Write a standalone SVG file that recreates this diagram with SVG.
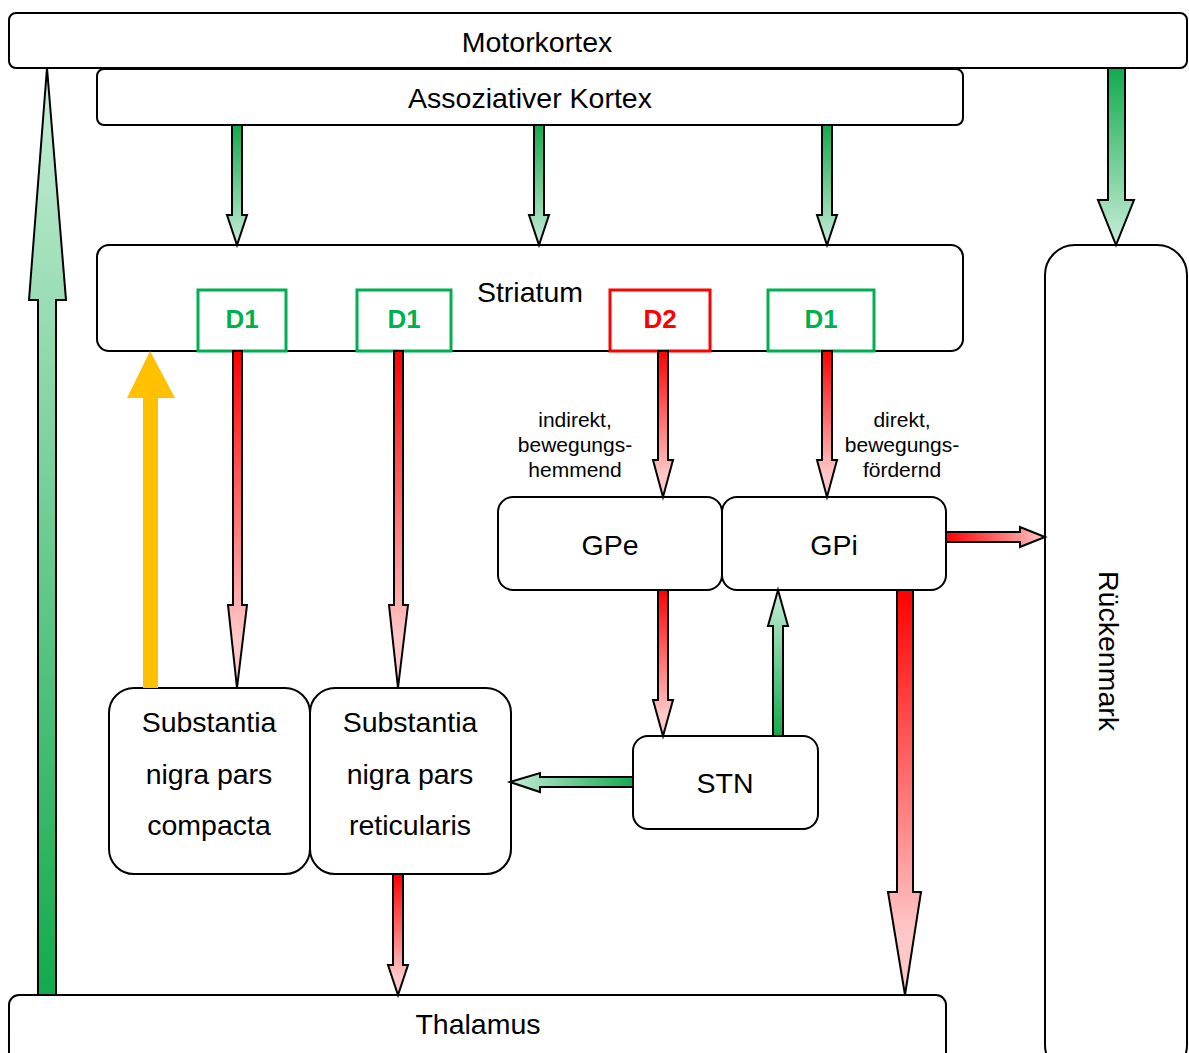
<svg xmlns="http://www.w3.org/2000/svg" width="1189" height="1053" viewBox="0 0 1189 1053">
<defs>
<linearGradient id="gDown" x1="0" y1="0" x2="0" y2="1"><stop offset="0" stop-color="#12aa4c"/><stop offset="1" stop-color="#c8eed8"/></linearGradient>
<linearGradient id="gUp" x1="0" y1="1" x2="0" y2="0"><stop offset="0" stop-color="#12aa4c"/><stop offset="1" stop-color="#c8eed8"/></linearGradient>
<linearGradient id="gLeft" x1="1" y1="0" x2="0" y2="0"><stop offset="0" stop-color="#12aa4c"/><stop offset="1" stop-color="#c8eed8"/></linearGradient>
<linearGradient id="rDown" x1="0" y1="0" x2="0" y2="1"><stop offset="0" stop-color="#ff0000"/><stop offset="0.85" stop-color="#ffc8c8"/><stop offset="1" stop-color="#ffc8c8"/></linearGradient>
<linearGradient id="rRight" x1="0" y1="0" x2="1" y2="0"><stop offset="0" stop-color="#ff0000"/><stop offset="1" stop-color="#ffc8c8"/></linearGradient>
</defs>
<style>
.box{fill:#fff;stroke:#000;stroke-width:2}
.rec{fill:#fff;stroke:#00b050;stroke-width:3}
.rec2{fill:#fff;stroke:#ff0000;stroke-width:3}
.t{font-family:"Liberation Sans",Arial,sans-serif;font-size:28.5px;fill:#000;text-anchor:middle}
.s{font-family:"Liberation Sans",Arial,sans-serif;font-size:21px;fill:#000;text-anchor:middle}
.d{font-family:"Liberation Sans",Arial,sans-serif;font-size:26px;font-weight:bold;text-anchor:middle}
.a{stroke:#000;stroke-width:2;stroke-linejoin:miter}
</style>
<g id="motorkortex"><rect class="box" x="9" y="13" width="1178" height="55" rx="7"/><text class="t" x="537" y="52">Motorkortex</text></g>
<g id="assoziativer-kortex"><rect class="box" x="97" y="69" width="866" height="56" rx="7"/><text class="t" x="530" y="108">Assoziativer Kortex</text></g>
<g id="striatum"><rect class="box" x="97" y="245" width="866" height="106" rx="12"/><text class="t" x="530" y="302">Striatum</text></g>
<g id="d1a"><rect class="rec" x="198" y="290" width="88" height="61"/><text class="d" x="242" y="328" fill="#00b050">D1</text></g>
<g id="d1b"><rect class="rec" x="357" y="290" width="94" height="61"/><text class="d" x="404" y="328" fill="#00b050">D1</text></g>
<g id="d2"><rect class="rec2" x="610" y="290" width="100" height="61"/><text class="d" x="660" y="328" fill="#ff0000">D2</text></g>
<g id="d1c"><rect class="rec" x="768" y="290" width="106" height="61"/><text class="d" x="821" y="328" fill="#00b050">D1</text></g>
<g id="rueckenmark"><rect class="box" x="1045" y="245" width="142" height="830" rx="30"/><text class="t" transform="translate(1099,651) rotate(90)" x="0" y="0">Rückenmark</text></g>
<g id="gpe"><rect class="box" x="498" y="497" width="224" height="93" rx="15"/><text class="t" x="610" y="555">GPe</text></g>
<g id="gpi"><rect class="box" x="722" y="497" width="224" height="93" rx="15"/><text class="t" x="834" y="555">GPi</text></g>
<g id="stn"><rect class="box" x="633" y="736" width="185" height="93" rx="15"/><text class="t" x="725" y="793">STN</text></g>
<g id="snc"><rect class="box" x="109" y="688" width="201" height="186" rx="25"/><text class="t" x="209" y="732">Substantia</text><text class="t" x="209" y="784">nigra pars</text><text class="t" x="209" y="835">compacta</text></g>
<g id="snr"><rect class="box" x="310" y="688" width="201" height="186" rx="25"/><text class="t" x="410" y="732">Substantia</text><text class="t" x="410" y="784">nigra pars</text><text class="t" x="410" y="835">reticularis</text></g>
<g id="thalamus"><rect class="box" x="9" y="995" width="937" height="80" rx="10"/><text class="t" x="478" y="1034">Thalamus</text></g>
<g id="labels">
<text class="s" x="575" y="427">indirekt,</text><text class="s" x="575" y="452">bewegungs-</text><text class="s" x="575" y="477">hemmend</text>
<text class="s" x="902" y="427">direkt,</text><text class="s" x="902" y="452">bewegungs-</text><text class="s" x="902" y="477">fördernd</text>
</g>
<g id="connectors">
<path class="a" fill="url(#gUp)" d="M38,995 L56,995 L56,300 L66,300 L47,68 L29,300 L38,300 Z"/>
<path class="a" fill="url(#gDown)" d="M232,125 L242,125 L242,215 L247,215 L237,245 L227,215 L232,215 Z"/>
<path class="a" fill="url(#gDown)" d="M534,125 L544,125 L544,215 L549,215 L539,245 L529,215 L534,215 Z"/>
<path class="a" fill="url(#gDown)" d="M822,125 L832,125 L832,215 L837,215 L827,245 L817,215 L822,215 Z"/>
<path class="a" fill="url(#gDown)" d="M1108,68 L1125,68 L1125,200 L1134,200 L1116,245 L1098,200 L1108,200 Z"/>
<path fill="#ffc000" d="M143,688 L158,688 L158,398 L175,398 L150,351 L127,398 L143,398 Z"/>
<path class="a" fill="url(#rDown)" d="M233,351 L242,351 L242,605 L247,605 L237,688 L228,605 L233,605 Z"/>
<path class="a" fill="url(#rDown)" d="M394,351 L403,351 L403,605 L408,605 L398,688 L389,605 L394,605 Z"/>
<path class="a" fill="url(#rDown)" d="M658,351 L668,351 L668,460 L673,460 L663,497 L653,460 L658,460 Z"/>
<path class="a" fill="url(#rDown)" d="M822,351 L832,351 L832,460 L837,460 L827,497 L817,460 L822,460 Z"/>
<path class="a" fill="url(#rRight)" d="M946,532 L1020,532 L1020,527 L1045,537 L1020,547 L1020,542 L946,542 Z"/>
<path class="a" fill="url(#rDown)" d="M658,590 L668,590 L668,700 L673,700 L663,736 L653,700 L658,700 Z"/>
<path class="a" fill="url(#gUp)" d="M773,736 L783,736 L783,626 L788,626 L778,590 L768,626 L773,626 Z"/>
<path class="a" fill="url(#gLeft)" d="M633,777 L540,777 L540,773 L510,782 L540,792 L540,787 L633,787 Z"/>
<path class="a" fill="url(#rDown)" d="M897,590 L913,590 L913,892 L921,892 L905,995 L888,892 L897,892 Z"/>
<path class="a" fill="url(#rDown)" d="M393,874 L403,874 L403,965 L408,965 L398,995 L388,965 L393,965 Z"/>
</g>
</svg>
